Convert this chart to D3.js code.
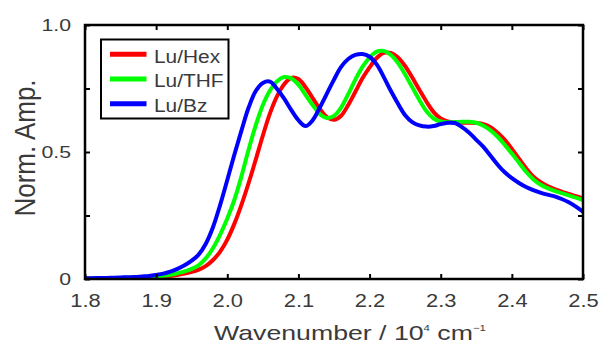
<!DOCTYPE html>
<html>
<head>
<meta charset="utf-8">
<script src="https://cdn.jsdelivr.net/npm/d3@7"></script>
<style>
  html, body { margin: 0; padding: 0; background: #fff; }
  svg { display: block; font-family: "Liberation Sans", Arial, sans-serif; }
</style>
</head>
<body>
<svg id="chart" width="600" height="345"></svg>
<script>
// ---------- data ----------
const wavenumber = [
  1.80,1.81,1.82,1.83,1.84,1.85,1.86,1.87,1.88,1.89,
  1.90,1.91,1.92,1.93,1.94,1.95,1.96,1.97,1.98,1.99,
  2.00,2.01,2.02,2.03,2.04,2.05,2.06,2.07,2.08,2.09,
  2.10,2.11,2.12,2.13,2.14,2.15,2.16,2.17,2.18,2.19,
  2.20,2.21,2.22,2.23,2.24,2.25,2.26,2.27,2.28,2.29,
  2.30,2.31,2.32,2.33,2.34,2.35,2.36,2.37,2.38,2.39,
  2.40,2.41,2.42,2.43,2.44,2.45,2.46,2.47,2.48,2.49,2.50
];
const luHex = [
  0.001,0.001,0.002,0.002,0.002,0.003,0.003,0.004,0.005,0.006,
  0.007,0.009,0.012,0.016,0.021,0.028,0.037,0.052,0.075,0.108,
  0.155,0.218,0.293,0.378,0.470,0.565,0.652,0.720,0.767,0.792,
  0.787,0.755,0.712,0.670,0.637,0.627,0.643,0.685,0.737,0.790,
  0.833,0.870,0.890,0.890,0.872,0.838,0.793,0.745,0.698,0.657,
  0.632,0.620,0.616,0.615,0.615,0.614,0.610,0.598,0.576,0.548,
  0.512,0.474,0.436,0.404,0.382,0.366,0.354,0.344,0.335,0.326,0.318
];
const luTHF = [
  0.002,0.002,0.003,0.003,0.004,0.004,0.005,0.006,0.007,0.008,
  0.010,0.013,0.017,0.023,0.030,0.040,0.055,0.082,0.122,0.175,
  0.238,0.312,0.405,0.510,0.605,0.685,0.742,0.779,0.795,0.790,
  0.765,0.725,0.685,0.650,0.634,0.642,0.675,0.728,0.785,0.835,
  0.872,0.895,0.898,0.882,0.850,0.805,0.755,0.705,0.660,0.632,
  0.620,0.617,0.618,0.619,0.619,0.615,0.603,0.585,0.560,0.528,
  0.494,0.458,0.422,0.393,0.372,0.358,0.347,0.338,0.329,0.320,0.311
];
const luBz = [
  0.003,0.003,0.004,0.004,0.005,0.006,0.007,0.008,0.010,0.012,
  0.016,0.021,0.029,0.040,0.054,0.072,0.097,0.140,0.205,0.292,
  0.390,0.490,0.585,0.675,0.740,0.772,0.777,0.748,0.710,0.665,
  0.625,0.602,0.625,0.675,0.730,0.785,0.835,0.866,0.882,0.886,
  0.875,0.845,0.795,0.740,0.690,0.645,0.618,0.605,0.600,0.602,
  0.610,0.615,0.614,0.598,0.576,0.548,0.520,0.485,0.450,0.420,
  0.397,0.378,0.362,0.350,0.340,0.332,0.325,0.315,0.302,0.285,0.265
];
const seriesNames = ["Lu/Hex", "Lu/THF", "Lu/Bz"];
const seriesColors = ["#ff0000", "#00ff00", "#0000ff"];
const xTicks = [1.8, 1.9, 2.0, 2.1, 2.2, 2.3, 2.4, 2.5];
const xTickLabels = ["1.8", "1.9", "2.0", "2.1", "2.2", "2.3", "2.4", "2.5"];
const yTicks = [0, 0.25, 0.5, 0.75, 1.0];
const yTickLabels = ["0", "", "0.5", "", "1.0"];

// ---------- layout ----------
const svg = d3.select("#chart");
const L = 85, R = 583, T = 25, B = 279;
const STRETCH = 1.25; // the reference's text is horizontally widened
const TEXT = "#3a3a3a";
const x = d3.scaleLinear().domain([1.8, 2.5]).range([L, R]);
const y = d3.scaleLinear().domain([0, 1]).range([B, T]);

const allSeries = [luHex, luTHF, luBz];

svg.append("clipPath").attr("id", "clip")
  .append("rect").attr("x", L).attr("y", T - 3).attr("width", R - L).attr("height", B - T + 3);

const line = d3.line()
  .x((d, i) => x(wavenumber[i]))
  .y(d => y(d))
  .curve(d3.curveCatmullRom.alpha(0.5));

const g = svg.append("g").attr("clip-path", "url(#clip)");
allSeries.forEach((s, k) => {
  g.append("path")
    .datum(s)
    .attr("d", line)
    .attr("fill", "none")
    .attr("stroke", seriesColors[k])
    .attr("stroke-width", 4)
    .attr("stroke-linejoin", "round")
    .attr("stroke-linecap", "round");
});

// axes (ticks inward on all four sides)
const tickLen = 5;
const axB = d3.axisBottom(x).tickValues(xTicks).tickFormat((d, i) => xTickLabels[i])
  .tickSizeInner(-tickLen).tickSizeOuter(0).tickPadding(16);
const axT = d3.axisTop(x).tickValues(xTicks).tickFormat("")
  .tickSizeInner(-tickLen).tickSizeOuter(0);
const axL = d3.axisLeft(y).tickValues(yTicks).tickFormat((d, i) => yTickLabels[i])
  .tickSizeInner(-tickLen).tickSizeOuter(0).tickPadding(14);
const axR = d3.axisRight(y).tickValues(yTicks).tickFormat("")
  .tickSizeInner(-tickLen).tickSizeOuter(0);

function styleAxis(sel, size) {
  sel.select(".domain").remove();
  sel.selectAll(".tick line").attr("stroke", "#000").attr("stroke-width", 2);
  sel.selectAll(".tick text").attr("fill", TEXT)
    .style("font-size", size + "px").style("font-family", "'Liberation Sans', Arial, sans-serif")
    .each(function () {
      const w = this.getComputedTextLength();
      if (w > 0) {
        d3.select(this).attr("textLength", w * STRETCH).attr("lengthAdjust", "spacingAndGlyphs");
      }
    });
}
svg.append("g").attr("transform", `translate(0,${B})`).call(axB).call(s => styleAxis(s, 17.5));
svg.append("g").attr("transform", `translate(0,${T})`).call(axT).call(s => styleAxis(s, 17));
svg.append("g").attr("transform", `translate(${L},0)`).call(axL).call(s => styleAxis(s, 17));
svg.append("g").attr("transform", `translate(${R},0)`).call(axR).call(s => styleAxis(s, 17));

// frame
svg.append("rect")
  .attr("x", L).attr("y", T).attr("width", R - L).attr("height", B - T)
  .attr("fill", "none").attr("stroke", "#000").attr("stroke-width", 2.5);

// axis titles
const xt = svg.append("text")
  .attr("transform", `translate(350,340) scale(1.27,1)`)
  .attr("text-anchor", "middle")
  .style("font-size", "21px").attr("fill", TEXT);
xt.append("tspan").text("Wavenumber / 10");
xt.append("tspan").text("4").attr("dy", -9).style("font-size", "9px");
xt.append("tspan").text(" cm").attr("dy", 9);
xt.append("tspan").text("\u22121").attr("dy", -9).style("font-size", "9px");

svg.append("text")
  .attr("transform", `translate(35,148) scale(1.17,1) rotate(-90)`)
  .attr("text-anchor", "middle")
  .style("font-size", "26px").attr("fill", TEXT)
  .text("Norm. Amp.");

// legend
const lg = svg.append("g");
lg.append("rect")
  .attr("x", 101).attr("y", 39.5).attr("width", 127.5).attr("height", 79)
  .attr("fill", "#fff").attr("stroke", "#000").attr("stroke-width", 2);
seriesNames.forEach((name, k) => {
  const yy = 54.3 + k * 24.7;
  lg.append("line")
    .attr("x1", 110).attr("x2", 146.5).attr("y1", yy).attr("y2", yy)
    .attr("stroke", seriesColors[k]).attr("stroke-width", 5);
  lg.append("text")
    .attr("transform", `translate(154,${yy + 8.4}) scale(1.13,1)`)
    .style("font-size", "18.5px").attr("fill", TEXT)
    .text(name);
});
</script>
</body>
</html>
